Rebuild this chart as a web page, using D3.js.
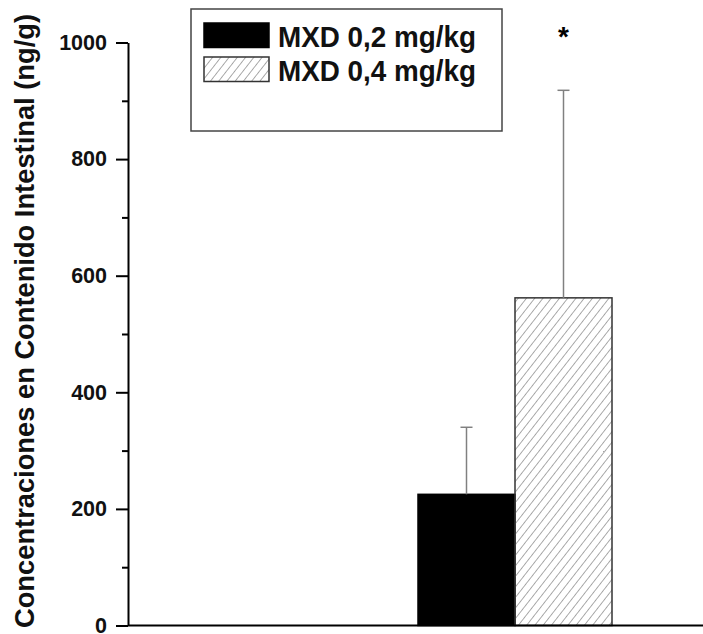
<!DOCTYPE html>
<html lang="es">
<head>
    <meta charset="UTF-8">
    <title>MXD contenido intestinal</title>
    <script src="https://cdn.jsdelivr.net/npm/d3@7/dist/d3.min.js"></script>
    <style>
        body { margin: 0; background: #fff; }
        svg { display: block; font-family: "Liberation Sans", Arial, sans-serif; font-weight: bold; }
    </style>
</head>
<body>
    <div id="chart"></div>
    <script>
        // datos
        var groups = ["Contenido Intestinal"];
        var series = ["MXD 0,2 mg/kg", "MXD 0,4 mg/kg"];
        var means = [225, 562];
        var sds = [115, 356];
        var majorTicks = [0, 200, 400, 600, 800, 1000];
        var minorTicks = [100, 300, 500, 700, 900];
        var marks = ["", "*"];

        var W = 703, H = 634;
        var margin = { top: 42.5, right: 0, bottom: 8.5, left: 128 };

        var svg = d3.select("#chart").append("svg")
            .attr("width", W)
            .attr("height", H);

        var defs = svg.append("defs");
        defs.append("pattern")
            .attr("id", "hatch")
            .attr("patternUnits", "userSpaceOnUse")
            .attr("width", 6.5)
            .attr("height", 6.5)
            .attr("patternTransform", "rotate(38)")
            .append("line")
            .attr("x1", 0).attr("y1", 0)
            .attr("x2", 0).attr("y2", 6.5)
            .attr("stroke", "#666")
            .attr("stroke-width", 1.1);

        var fills = ["#000", "url(#hatch)"];
        var strokes = ["#000", "#333"];

        var y = d3.scaleLinear()
            .domain([0, 1000])
            .range([H - margin.bottom, margin.top]);

        // solo un grupo, las barras ocupan esta banda
        var x0 = d3.scaleBand()
            .domain(groups)
            .range([418, 612]);

        var x1 = d3.scaleBand()
            .domain(series)
            .range([0, x0.bandwidth()]);

        var g = svg.append("g");

        // barras
        g.selectAll(".bar")
            .data(series)
            .enter()
            .append("rect")
            .attr("class", "bar")
            .attr("x", d => x0(groups[0]) + x1(d))
            .attr("y", (d, i) => y(means[i]))
            .attr("width", x1.bandwidth())
            .attr("height", (d, i) => y(0) - y(means[i]))
            .attr("fill", (d, i) => fills[i])
            .attr("stroke", (d, i) => strokes[i])
            .attr("stroke-width", 1.5);

        // barras de error (solo hacia arriba)
        var err = g.selectAll(".err")
            .data(series)
            .enter()
            .append("g")
            .attr("class", "err")
            .attr("stroke", "#808080")
            .attr("stroke-width", 1.5);

        err.append("line")
            .attr("x1", d => x0(groups[0]) + x1(d) + x1.bandwidth() / 2)
            .attr("x2", d => x0(groups[0]) + x1(d) + x1.bandwidth() / 2)
            .attr("y1", (d, i) => y(means[i]))
            .attr("y2", (d, i) => y(means[i] + sds[i]));

        err.append("line")
            .attr("x1", d => x0(groups[0]) + x1(d) + x1.bandwidth() / 2 - 6)
            .attr("x2", d => x0(groups[0]) + x1(d) + x1.bandwidth() / 2 + 6)
            .attr("y1", (d, i) => y(means[i] + sds[i]))
            .attr("y2", (d, i) => y(means[i] + sds[i]));

        // asterisco de significancia
        g.selectAll(".mark")
            .data(series)
            .enter()
            .append("text")
            .attr("class", "mark")
            .attr("x", d => x0(groups[0]) + x1(d) + x1.bandwidth() / 2)
            .attr("y", 46)
            .attr("text-anchor", "middle")
            .style("font-size", "28px")
            .text((d, i) => marks[i]);

        // eje x: solo la linea
        svg.append("line")
            .attr("x1", margin.left)
            .attr("x2", W)
            .attr("y1", y(0))
            .attr("y2", y(0))
            .attr("stroke", "#000")
            .attr("stroke-width", 2);

        // eje y
        var yAxis = svg.append("g")
            .attr("transform", `translate(${margin.left},0)`)
            .call(d3.axisLeft(y).tickValues(majorTicks).tickFormat(d3.format("d"))
                .tickSize(12).tickPadding(9).tickSizeOuter(0));

        yAxis.select(".domain").attr("stroke-width", 2);
        yAxis.selectAll(".tick line").attr("stroke-width", 2);
        yAxis.selectAll(".tick text")
            .style("font-size", "21.5px")
            .style("font-weight", "bold")
            .attr("font-family", "'Liberation Sans', Arial, sans-serif")
            .attr("fill", "#111");

        var yMinor = svg.append("g")
            .attr("transform", `translate(${margin.left},0)`)
            .call(d3.axisLeft(y).tickValues(minorTicks).tickSize(6).tickFormat(""));
        yMinor.select(".domain").remove();
        yMinor.selectAll(".tick line").attr("stroke-width", 2);

        svg.append("text")
            .attr("transform", "rotate(-90)")
            .attr("x", -321)
            .attr("y", 34)
            .attr("text-anchor", "middle")
            .attr("textLength", 614)
            .attr("lengthAdjust", "spacingAndGlyphs")
            .style("font-size", "28.5px")
            .attr("fill", "#111")
            .text("Concentraciones en Contenido Intestinal (ng/g)");

        // leyenda
        var legend = svg.append("g")
            .attr("transform", "translate(191,9)");

        legend.append("rect")
            .attr("width", 311)
            .attr("height", 122)
            .attr("fill", "#fff")
            .attr("stroke", "#444")
            .attr("stroke-width", 1.5);

        var items = legend.selectAll(".item")
            .data(series)
            .enter()
            .append("g")
            .attr("class", "item")
            .attr("transform", (d, i) => `translate(13,${14 + i * 34})`);

        items.append("rect")
            .attr("width", 65)
            .attr("height", 24.5)
            .attr("fill", (d, i) => fills[i])
            .attr("stroke", (d, i) => strokes[i])
            .attr("stroke-width", 1.5);

        items.append("text")
            .attr("x", 74)
            .attr("y", 23.5)
            .attr("textLength", 198)
            .attr("lengthAdjust", "spacingAndGlyphs")
            .style("font-size", "29px")
            .attr("fill", "#111")
            .text(d => d);
    </script>
</body>
</html>
